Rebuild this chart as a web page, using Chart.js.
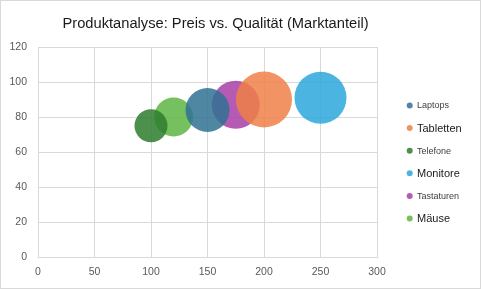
<!DOCTYPE html>
<html>
<head>
<meta charset="utf-8">
<script src="https://cdn.jsdelivr.net/npm/chart.js@4"></script>
<style>
  html, body { margin: 0; padding: 0; background: #fff; }
  #wrap { width: 481px; height: 289px; }
</style>
</head>
<body>
<div id="wrap"><canvas id="bubbleChart" width="481" height="289"></canvas></div>
<script>
// Daten
const produkte = ['Laptops', 'Tabletten', 'Telefone', 'Monitore', 'Tastaturen', 'Mäuse'];
const preis = [150, 200, 100, 250, 175, 120];
const qualitaet = [84, 90, 75, 91, 87, 80];
const marktanteil = [22, 28, 16.5, 26, 24, 19.5];
const xTicks = [0, 50, 100, 150, 200, 250, 300];
const yTicks = [0, 20, 40, 60, 80, 100, 120];

const farben = [
  'rgba(48,114,147,0.85)',
  'rgba(238,128,70,0.85)',
  'rgba(46,124,46,0.85)',
  'rgba(45,167,219,0.85)',
  'rgba(168,62,166,0.85)',
  'rgba(94,181,68,0.85)'
];
const titel = 'Produktanalyse: Preis vs. Qualität (Marktanteil)';
const schrift = '"Liberation Sans", Arial, sans-serif';

const datasets = produkte.map((name, i) => ({
  label: name,
  data: [{ x: preis[i], y: qualitaet[i], r: marktanteil[i] }],
  backgroundColor: farben[i],
  borderWidth: 0,
  hoverBorderWidth: 0
}));

// Rahmen, Titel und Legende (Legende mit wechselnder Schriftgroesse)
const decor = {
  id: 'decor',
  beforeDraw(chart) {
    const ctx = chart.ctx;
    ctx.save();
    ctx.fillStyle = '#fff';
    ctx.fillRect(0, 0, chart.width, chart.height);
    ctx.strokeStyle = '#d9d9d9';
    ctx.lineWidth = 1;
    ctx.strokeRect(0.5, 0.5, chart.width - 1, chart.height - 1);
    ctx.restore();
  },
  afterDraw(chart) {
    const ctx = chart.ctx;
    ctx.save();
    ctx.fillStyle = '#1a1a1a';
    ctx.font = '14.7px ' + schrift;
    ctx.textAlign = 'center';
    ctx.textBaseline = 'middle';
    ctx.fillText(titel, 215.5, 24);

    ctx.textAlign = 'left';
    chart.data.datasets.forEach((ds, i) => {
      const y = 105.5 + i * 22.6;
      ctx.fillStyle = ds.backgroundColor;
      ctx.beginPath();
      ctx.arc(409.7, y, 3, 0, Math.PI * 2);
      ctx.fill();
      const gross = i % 2 === 1;
      ctx.fillStyle = gross ? '#1a1a1a' : '#404040';
      ctx.font = (gross ? '11px ' : '9px ') + schrift;
      ctx.fillText(ds.label, 417, y + 0.5);
    });
    ctx.restore();
  }
};

new Chart(document.getElementById('bubbleChart'), {
  type: 'bubble',
  data: { datasets: datasets },
  plugins: [decor],
  options: {
    responsive: false,
    animation: false,
    layout: { padding: { top: 47, right: 104, bottom: 0, left: 0 } },
    plugins: {
      legend: { display: false },
      title: { display: false },
      tooltip: { enabled: false }
    },
    scales: {
      x: {
        type: 'linear',
        min: 0,
        max: 300,
        afterBuildTicks: s => { s.ticks = xTicks.map(v => ({ value: v })); },
        afterFit: s => { s.height = 32; },
        grid: { color: '#d9d9d9', drawTicks: false },
        border: { color: '#d9d9d9' },
        ticks: { color: '#595959', padding: 9, font: { size: 10.5, family: schrift } }
      },
      y: {
        type: 'linear',
        min: 0,
        max: 120,
        afterBuildTicks: s => { s.ticks = yTicks.map(v => ({ value: v })); },
        afterFit: s => { s.width = 38; },
        grid: { color: '#d9d9d9', drawTicks: false },
        border: { color: '#d9d9d9' },
        ticks: { color: '#595959', padding: 11, font: { size: 10.5, family: schrift } }
      }
    }
  }
});
</script>
</body>
</html>
